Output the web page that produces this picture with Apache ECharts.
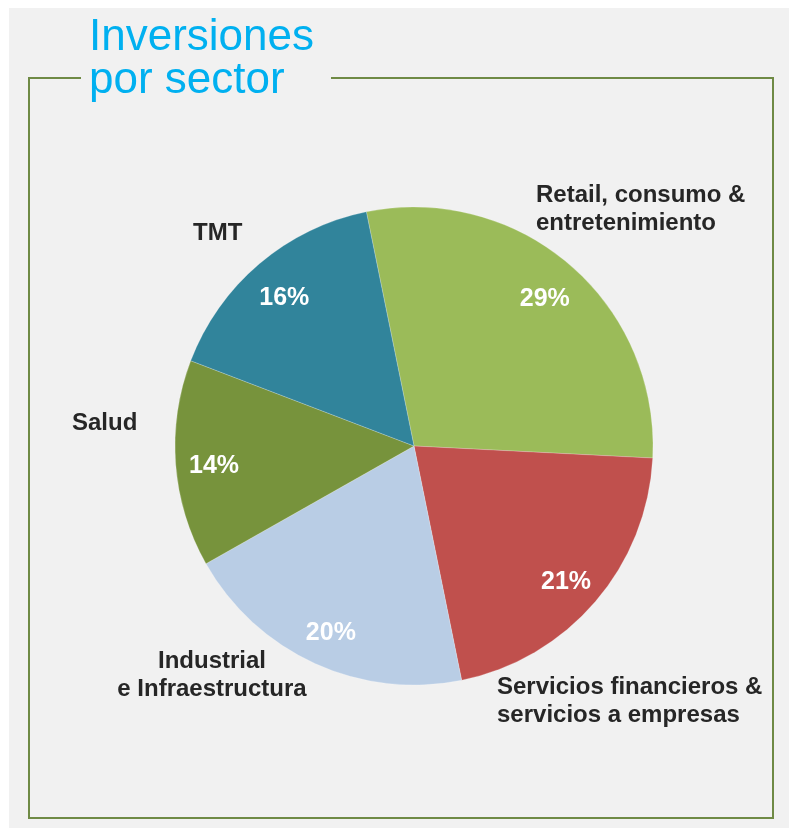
<!DOCTYPE html>
<html>
<head>
<meta charset="utf-8">
<title>Inversiones por sector</title>
<script src="https://cdn.jsdelivr.net/npm/echarts@6/dist/echarts.min.js"></script>
<style>
  html, body { margin: 0; padding: 0; background: #ffffff; }
  #chart { width: 789px; height: 828px; }
</style>
</head>
<body>
<div id="chart"></div>
<script>
// Sectors, clockwise from the top of the pie
const sectors = [
  'Retail, consumo &\nentretenimiento',
  'Servicios financieros &\nservicios a empresas',
  'Industrial\ne Infraestructura',
  'Salud',
  'TMT'
];
// Share of investment per sector (%)
const shares = [29, 21, 20, 14, 16];

// Slice colours
const sliceColors = ['#9BBB59', '#C0504D', '#B9CDE5', '#77933C', '#31849B'];
// Sector-name placement: [x, y, align]
const nameAnchors = [
  [536, 209, 'left'],
  [497, 701, 'left'],
  [212, 675, 'center'],
  [72, 423, 'left'],
  [193, 233, 'left']
];

const FONT = '"Liberation Sans", Arial, Helvetica, sans-serif';
const CX = 414, CY = 446, R = 239;

const pieData = sectors.map((name, i) => ({
  name: name,
  value: shares[i],
  itemStyle: { color: sliceColors[i] }
}));

const chart = echarts.init(document.getElementById('chart'), null, { renderer: 'canvas' });

chart.setOption({
  backgroundColor: '#ffffff',
  animation: false,
  graphic: [
    {
      type: 'rect',
      z: -10,
      shape: { x: 9, y: 8, width: 780, height: 820 },
      style: { fill: '#f1f1f1' }
    },
    {
      type: 'polyline',
      z: -5,
      shape: {
        points: [[81, 78], [29, 78], [29, 818], [773, 818], [773, 78], [331, 78]]
      },
      style: { stroke: '#6f8a45', lineWidth: 2, fill: null }
    },
    {
      type: 'text',
      x: 89, y: 38,
      style: {
        text: 'Inversiones',
        font: '44px ' + FONT,
        fill: '#00B0F0',
        verticalAlign: 'middle'
      }
    },
    {
      type: 'text',
      x: 89, y: 81,
      style: {
        text: 'por sector',
        font: '44px ' + FONT,
        fill: '#00B0F0',
        verticalAlign: 'middle'
      }
    }
  ],
  series: [
    {
      // slices with sector names outside
      type: 'pie',
      center: [CX, CY],
      radius: R,
      startAngle: 101.5,
      clockwise: true,
      avoidLabelOverlap: false,
      silent: true,
      data: pieData,
      itemStyle: { borderColor: 'rgba(255,255,255,0.35)', borderWidth: 0.6 },
      label: {
        show: true,
        position: 'outside',
        formatter: '{b}',
        color: '#262626',
        fontFamily: FONT,
        fontWeight: 'bold',
        fontSize: 24,
        lineHeight: 28
      },
      labelLine: { show: false },
      labelLayout: function (params) {
        const a = nameAnchors[params.dataIndex];
        return { x: a[0], y: a[1], align: a[2], verticalAlign: 'middle' };
      }
    },
    {
      // percentage labels inside the slices
      type: 'pie',
      center: [CX, CY],
      radius: [156, R],
      startAngle: 101.5,
      clockwise: true,
      silent: true,
      data: pieData.map(d => ({ name: d.name, value: d.value })),
      itemStyle: { color: 'rgba(0,0,0,0)' },
      label: {
        show: true,
        position: 'inside',
        formatter: '{c}%',
        color: '#ffffff',
        fontFamily: FONT,
        fontWeight: 'bold',
        fontSize: 25
      },
      labelLine: { show: false },
      labelLayout: { dy: 5 }
    }
  ]
});
</script>
</body>
</html>
